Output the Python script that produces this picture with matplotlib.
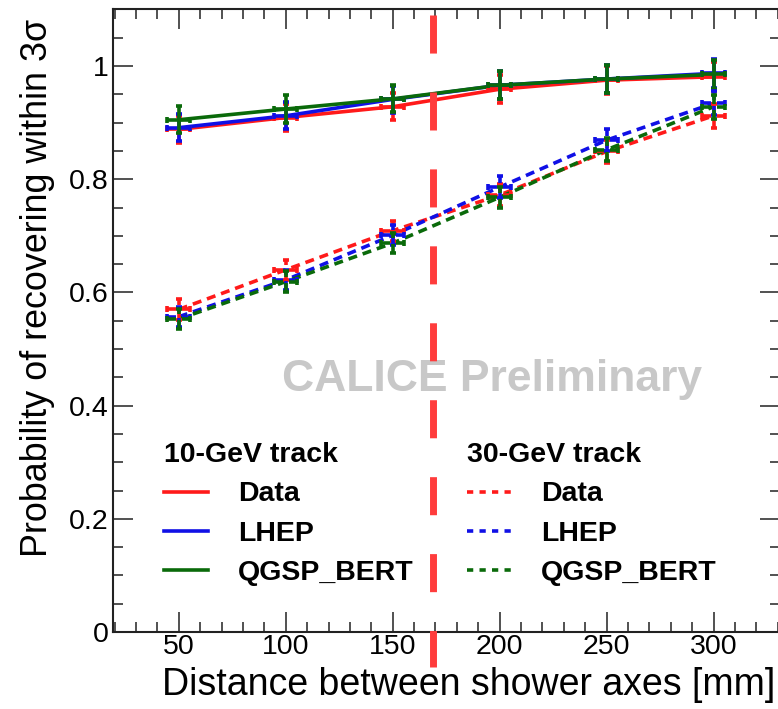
import matplotlib
matplotlib.use("Agg")
import matplotlib.pyplot as plt
from matplotlib.lines import Line2D
from matplotlib.ticker import MultipleLocator, FixedLocator

# ---------------- data ----------------
distance_mm = [50, 100, 150, 200, 250, 300]

gev10_data = [0.888, 0.909, 0.928, 0.959, 0.975, 0.981]
gev10_lhep = [0.891, 0.912, 0.941, 0.966, 0.977, 0.987]
gev10_qgsp = [0.905, 0.924, 0.942, 0.966, 0.977, 0.985]

gev30_data = [0.570, 0.640, 0.709, 0.772, 0.849, 0.912]
gev30_lhep = [0.557, 0.622, 0.701, 0.786, 0.869, 0.934]
gev30_qgsp = [0.553, 0.619, 0.687, 0.768, 0.852, 0.928]

gev10_err = [0.024, 0.024, 0.024, 0.025, 0.025, 0.026]
gev30_err = [0.018, 0.018, 0.018, 0.019, 0.020, 0.021]
x_err = [5.3, 5.3, 5.3, 5.3, 5.3, 5.3]

boundary_mm = 169

series_labels = ["Data", "LHEP", "QGSP_BERT"]
legend_titles = ["10-GeV track", "30-GeV track"]
xlabel = "Distance between shower axes [mm]"
ylabel = "Probability of recovering within 3σ"
watermark = "CALICE Preliminary"
ytick_values = [0, 0.2, 0.4, 0.6, 0.8, 1.0]
ytick_labels = ["0", "0.2", "0.4", "0.6", "0.8", "1"]
xtick_values = [50, 100, 150, 200, 250, 300]

# ---------------- style ----------------
plt.rcParams['font.family'] = ['Liberation Sans', 'DejaVu Sans']
plt.rcParams['lines.scale_dashes'] = False

RED = '#ff1a1a'
BLUE = '#1010e6'
GREEN = '#0a6a0a'
colors = [RED, BLUE, GREEN]

W, H = 778, 709
fig = plt.figure(figsize=(W / 100, H / 100), dpi=100)

px_per_unit_x = 2.139
x0, x1 = 19, 331
ax_left_px = 112.5
ax_w_px = (x1 - x0) * px_per_unit_x
ax_bottom_px = 632
ax_h_px = 1.1 * 566
ax = fig.add_axes([ax_left_px / W, (H - ax_bottom_px) / H, ax_w_px / W, ax_h_px / H])

series_dash = (0, (6.5, 4.3))

def draw(values, err, color, dashed):
    line, = ax.plot(distance_mm, values, color=color, lw=2.6, zorder=3)
    if dashed:
        line.set_dashes(series_dash[1])
    eb = ax.errorbar(distance_mm, values, yerr=err, xerr=x_err, fmt='none',
                     ecolor=color, elinewidth=2.6, capsize=2.5, capthick=2.6, zorder=4)
    if dashed:
        for lc in eb[2]:
            lc.set_linestyle(series_dash)

for vals, c in zip([gev10_data, gev10_lhep, gev10_qgsp], colors):
    draw(vals, gev10_err, c, False)
for vals, c in zip([gev30_data, gev30_lhep, gev30_qgsp], colors):
    draw(vals, gev30_err, c, True)

# vertical boundary line (extends below the axis)
vl, = ax.plot([boundary_mm, boundary_mm], [1.090, -0.062], color='#ff3c3c', lw=5.0,
              clip_on=False, zorder=5, solid_capstyle='butt')
vl.set_dashes((27.4, 28.0))

ax.set_xlim(x0, x1)
ax.set_ylim(0, 1.1)
ax.xaxis.set_major_locator(FixedLocator(xtick_values))
ax.xaxis.set_minor_locator(MultipleLocator(10))
ax.yaxis.set_major_locator(FixedLocator(ytick_values))
ax.set_yticklabels(ytick_labels)
ax.yaxis.set_minor_locator(MultipleLocator(0.05))

ax.tick_params(which='both', direction='in', top=True, right=True, width=1.1, color='#222222')
ax.tick_params(which='major', length=14.4, labelsize=20.5)
ax.tick_params(which='minor', length=7.2)
ax.tick_params(axis='x', which='major', pad=1.5)
ax.tick_params(axis='y', which='major', pad=3)
for s in ax.spines.values():
    s.set_linewidth(1.5)
    s.set_color('#222222')

ax.set_xlabel(xlabel, fontsize=27.0, loc='right')
ax.xaxis.set_label_coords(0.993, -0.056)
ax.set_ylabel(ylabel, fontsize=25.8, loc='top')
ax.yaxis.set_label_coords(-0.086, 0.984)

ax.text(0.569, 0.405, watermark, transform=ax.transAxes, fontsize=32,
        fontweight='bold', color='#c8c8c8', ha='center', va='center', zorder=1)

# legends
def make_legend(dashed, title, xa, ya):
    handles = []
    for c in colors:
        h = Line2D([], [], color=c, lw=2.6)
        if dashed:
            h.set_dashes((4.5, 4.5))
        handles.append(h)
    leg = ax.legend(handles, series_labels, title=title, loc='upper left',
                    bbox_to_anchor=(xa, ya), frameon=False, borderpad=0, borderaxespad=0,
                    prop={'size': 20.5, 'weight': 'bold'},
                    title_fontproperties={'size': 20.5, 'weight': 'bold'},
                    alignment='left', handlelength=1.55, handletextpad=1.05,
                    labelspacing=0.47)
    return leg

leg1 = make_legend(False, legend_titles[0], 0.0766, 0.305)
ax.add_artist(leg1)
leg2 = make_legend(True, legend_titles[1], 0.5315, 0.305)

fig.savefig("out.png", dpi=100)
